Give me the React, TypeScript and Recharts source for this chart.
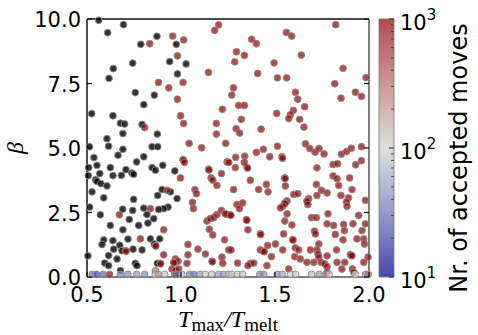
import React from 'react';
import {
  ScatterChart,
  Scatter,
  XAxis,
  YAxis,
  ComposedChart,
  ReferenceArea,
} from 'recharts';

// Axis ticks
const xTicks = [0.5, 1.0, 1.5, 2.0];
const yTicks = [0, 2.5, 5, 7.5, 10];
const cbarMajor = [10, 100, 1000];
const cbarTicks = [
  10, 20, 30, 40, 50, 60, 70, 80, 90, 100, 200, 300, 400, 500, 600, 700, 800, 900, 1000,
];

// Runs without an acceptance count (drawn black)
const blackPts: [number, number][] = [
  [0.562, 9.95], [0.694, 9.78], [0.61, 9.47], [0.872, 9.33], [0.786, 9.02], [0.743, 8.29],
  [0.64, 8.08], [0.617, 7.7], [0.757, 7.15], [0.858, 7.05], [0.802, 6.68], [0.525, 6.33],
  [0.638, 6.25], [0.678, 5.96], [0.7, 5.93], [0.793, 5.91], [0.691, 5.56], [0.874, 5.54],
  [0.606, 5.36], [0.513, 5.05], [0.615, 5.07], [0.691, 4.95], [0.846, 5.05], [0.876, 5.05],
  [0.975, 9.02], [0.94, 8.35], [1.027, 8.26], [0.981, 7.87],
  [0.665, 4.72], [0.537, 4.63], [0.764, 4.46], [0.802, 4.66], [0.509, 4.24], [0.553, 4.33],
  [0.624, 4.24], [0.707, 4.16], [0.683, 3.94], [0.739, 4.03], [0.748, 3.98], [0.638, 3.93],
  [0.568, 4.01], [0.507, 3.93], [0.846, 4.24], [0.864, 4.14], [0.546, 3.77], [0.553, 3.71],
  [0.574, 3.62], [0.606, 3.53], [0.527, 3.3], [0.589, 3.07], [0.748, 3.01], [0.876, 3.16],
  [0.514, 2.71], [0.69, 2.63], [0.743, 2.58], [0.802, 2.67], [0.571, 2.41], [0.624, 2.0],
  [0.725, 2.23], [0.819, 2.42], [0.855, 2.26], [0.691, 1.83], [0.775, 2.0], [0.824, 2.09],
  [0.837, 1.48], [0.858, 1.28], [0.589, 1.44], [0.638, 1.41], [0.718, 1.47], [0.58, 1.26],
  [0.642, 1.08], [0.674, 1.23], [0.686, 1.02], [0.745, 1.08], [0.793, 1.05], [0.505, 0.82],
  [0.615, 0.83], [0.66, 0.7], [0.594, 0.54], [0.615, 0.44], [0.757, 0.53], [0.766, 0.44],
  [0.874, 0.53], [0.678, 0.25],
  [0.903, 4.33], [0.967, 4.11], [0.899, 3.39], [0.944, 3.3], [0.979, 3.04], [0.931, 2.71],
  [0.908, 2.65], [0.881, 2.62], [0.887, 1.48],
];

// Runs that hit the top of the colour scale (>= 10^3 accepted moves)
const redPts: [number, number][] = [
  [0.834, 9.04], [0.88, 7.54], [0.807, 5.79],
  [0.956, 9.34], [1.014, 9.19], [1.2, 9.77], [1.179, 9.56], [0.981, 8.57], [1.146, 7.93],
  [1.011, 7.54], [0.935, 7.33], [0.981, 6.89], [1.22, 6.5], [0.998, 6.25], [1.014, 5.95],
  [1.188, 5.95], [1.188, 5.54], [1.043, 5.18], [1.11, 5.01], [1.238, 5.18],
  [1.561, 9.48], [1.589, 9.34], [1.376, 9.21], [1.401, 9.04], [1.295, 8.73], [1.337, 8.59],
  [1.286, 8.34], [1.495, 8.3], [1.408, 7.89], [1.513, 7.72], [1.562, 7.72], [1.64, 8.6],
  [1.279, 7.33], [1.27, 7.05], [1.621, 6.89], [1.307, 6.65], [1.337, 6.65], [1.509, 6.34],
  [1.598, 6.46], [1.582, 6.29], [1.573, 6.14], [1.631, 6.11], [1.321, 6.11], [1.293, 5.75],
  [1.312, 5.58], [1.426, 5.73], [1.438, 4.95], [1.513, 5.07],
  [1.823, 9.78], [1.862, 8.09], [1.984, 7.73], [1.818, 7.49], [1.851, 6.93], [1.928, 7.16],
  [1.96, 7.0], [1.609, 7.16], [1.658, 6.6], [1.654, 5.81], [1.401, 4.83], [1.472, 4.66],
  [1.537, 4.66], [1.54, 4.6], [1.662, 5.16], [1.685, 4.98], [1.713, 4.84], [1.734, 4.98],
  [1.761, 4.77], [1.809, 4.36], [1.833, 4.39], [1.853, 4.76], [1.88, 4.86], [1.906, 4.99],
  [1.96, 5.05], [1.96, 4.51], [1.929, 4.35], [1.723, 4.23], [1.291, 4.64], [1.339, 4.68],
  [1.351, 4.25], [1.354, 4.22],
  [1.011, 4.55], [1.013, 4.53], [1.018, 4.44], [0.997, 3.84], [1.147, 4.18], [1.149, 4.15],
  [1.16, 3.84], [1.169, 3.75], [1.215, 4.01], [1.245, 4.46], [1.191, 3.55], [1.074, 3.39],
  [1.082, 3.23], [0.926, 3.36], [1.061, 2.89], [1.066, 2.65], [0.908, 1.83], [1.138, 2.17],
  [1.156, 2.26], [1.174, 2.3], [1.191, 2.42], [1.215, 2.58], [1.245, 2.42], [1.151, 1.85],
  [1.169, 1.63], [1.232, 1.44], [1.037, 1.26], [1.09, 1.08], [1.13, 0.89], [1.165, 0.61],
  [1.167, 0.59], [1.218, 0.77], [1.222, 0.53], [0.908, 0.86], [0.97, 0.7], [0.984, 0.61],
  [0.961, 0.57], [0.963, 0.55], [1.037, 0.86], [1.032, 0.53], [0.89, 0.53], [0.892, 0.51],
  [0.952, 0.31], [0.97, 0.25], [0.988, 0.31],
  [0.837, 2.65], [0.672, 2.41], [0.784, 1.48], [0.864, 1.22], [0.866, 1.2], [0.706, 1.02],
  [0.708, 1.0],
  [1.254, 4.44], [1.289, 4.24], [1.337, 4.44], [1.369, 3.75], [1.28, 3.39], [1.413, 3.39],
  [1.454, 3.59], [1.463, 3.3], [1.552, 3.84], [1.554, 3.82], [1.555, 3.53], [1.6, 3.2],
  [1.621, 3.23], [1.564, 2.95], [1.552, 2.87], [1.554, 2.85], [1.543, 2.75], [1.529, 2.68],
  [1.564, 2.45], [1.552, 2.17], [1.59, 2.02], [1.298, 2.81], [1.328, 2.87], [1.311, 2.65],
  [1.236, 2.45], [1.263, 2.41], [1.265, 2.39], [1.348, 2.22], [1.35, 2.2], [1.356, 1.83],
  [1.422, 1.67], [1.424, 1.65], [1.546, 1.67], [1.594, 1.45], [1.596, 1.43], [1.502, 1.28],
  [1.461, 1.22], [1.422, 1.05], [1.44, 1.0], [1.442, 0.98], [1.254, 1.05], [1.266, 1.05],
  [1.541, 1.05], [1.608, 1.13], [1.605, 0.79], [1.481, 0.79], [1.301, 0.54], [1.369, 0.53],
  [1.387, 0.54], [1.356, 0.44], [1.457, 0.44], [1.573, 0.31],
  [1.809, 3.92], [1.83, 3.81], [1.839, 3.55], [1.897, 3.84], [1.91, 3.39], [1.72, 3.59],
  [1.747, 3.36], [1.777, 3.26], [1.723, 3.16], [1.679, 3.04], [1.67, 2.95], [1.672, 2.93],
  [1.675, 2.81], [1.851, 3.16], [1.891, 3.07], [1.88, 2.91], [1.883, 2.74], [1.981, 2.97],
  [1.782, 2.45], [1.694, 2.3], [1.72, 2.3], [1.945, 2.39], [1.777, 2.06], [1.812, 2.0],
  [1.821, 1.65], [1.865, 2.04], [1.869, 1.8], [1.862, 1.44], [1.915, 2.06], [1.981, 2.06],
  [1.963, 1.8], [1.71, 1.78], [1.715, 1.67], [1.936, 1.48], [1.972, 1.48], [1.976, 1.28],
  [1.995, 0.77], [1.972, 0.57], [1.901, 0.87], [1.903, 0.85], [1.91, 0.82], [1.871, 0.57],
  [1.827, 1.05], [1.733, 1.28], [1.723, 1.05], [1.688, 1.05], [1.729, 0.89], [1.733, 0.77],
  [1.626, 1.05], [1.777, 0.82], [1.745, 0.57], [1.764, 0.51], [1.777, 0.4], [1.67, 0.57],
  [1.706, 0.57], [1.635, 0.7], [1.83, 0.57], [1.856, 0.31], [1.912, 0.31], [1.919, 0.18],
  [1.777, 0.18],
];

// Runs coloured by their count: [T/Tmelt, beta, accepted moves]
const colouredPts: [number, number, number][] = [
  [0.864, 0.25, 300],
  [0.528, 0.1, 30], [0.552, 0.1, 22], [0.586, 0.1, 30], [0.62, 0.1, 900], [0.677, 0.1, 45],
  [0.717, 0.1, 45], [0.764, 0.1, 50], [0.807, 0.1, 45], [0.863, 0.1, 110], [0.879, 0.1, 200],
  [0.913, 0.1, 85], [0.966, 0.1, 55], [0.972, 0.1, 600], [0.982, 0.1, 25], [1.004, 0.1, 80],
  [1.046, 0.1, 35], [1.068, 0.1, 35], [1.102, 0.1, 55], [1.129, 0.1, 90], [1.163, 0.1, 85],
  [1.2, 0.1, 55], [1.227, 0.1, 50], [1.254, 0.1, 80], [1.27, 0.1, 110], [1.299, 0.1, 90],
  [1.328, 0.1, 120], [1.419, 0.1, 45], [1.44, 0.1, 45], [1.512, 0.1, 50], [1.538, 0.1, 60],
  [1.583, 0.1, 100], [1.61, 0.1, 95], [1.695, 0.1, 130], [1.735, 0.1, 50], [1.77, 0.1, 250],
  [1.788, 0.1, 110], [1.927, 0.1, 100], [1.982, 0.1, 40], [1.996, 0.1, 300],
];

const blackData = blackPts.map(([x, y]) => ({ x, y }));
const redData = redPts.map(([x, y]) => ({ x, y }));
const colouredData = colouredPts.map(([x, y, v]) => ({ x, y, v }));
const cbarData = [{ v: 10 }, { v: 1000 }];

// colour scale, as it looks on white: t=0 -> 10^1, t=1 -> 10^3
const STOPS: [number, number[]][] = [
  [0, [70, 72, 172]],
  [0.25, [150, 155, 205]],
  [0.5, [220, 224, 220]],
  [0.75, [205, 150, 150]],
  [1, [178, 76, 76]],
];
const ALPHA = 0.7;
const R = 3.4;
const EDGE = '#8a8a8a';
const SANS = 'DejaVu Sans';
const SERIF = 'Liberation Serif';

function appear(t: number) {
  const tt = Math.max(0, Math.min(1, t));
  for (let i = 1; i < STOPS.length; i++) {
    const [t0, c0] = STOPS[i - 1];
    const [t1, c1] = STOPS[i];
    if (tt <= t1) {
      const f = (tt - t0) / (t1 - t0);
      return c0.map((c, k) => c + f * (c1[k] - c));
    }
  }
  return STOPS[STOPS.length - 1][1];
}

const rgb = (c: number[]) => `rgb(${c.map((v) => Math.round(v)).join(',')})`;

// fill colour that gives the scale colour once drawn at ALPHA over white
function pointFill(moves: number) {
  const c = appear((Math.log10(moves) - 1) / 2);
  return rgb(c.map((v) => Math.max(0, Math.min(255, (v - 255 * (1 - ALPHA)) / ALPHA))));
}

const blackShape = (p: any) => (
  <circle cx={p.cx} cy={p.cy} r={R} fill="#000" fillOpacity={0.8} stroke={EDGE} strokeWidth={0.9} />
);
const redShape = (p: any) => (
  <circle cx={p.cx} cy={p.cy} r={R} fill={pointFill(1000)} fillOpacity={ALPHA} stroke={EDGE} strokeWidth={0.9} />
);
const colouredShape = (p: any) => (
  <circle cx={p.cx} cy={p.cy} r={R} fill={pointFill(p.payload.v)} fillOpacity={ALPHA} stroke={EDGE} strokeWidth={0.9} />
);

const AX_DARK = '#111';
const AX_GREY = '#555';

function BottomTick({ x, y, payload }: any) {
  return (
    <g>
      <line x1={x} x2={x} y1={y} y2={y - 5} stroke={AX_DARK} strokeWidth={1.2} />
      <text x={x} y={y + 25} textAnchor="middle" fontSize={21} fontFamily={SANS} fill="#000">
        {payload.value.toFixed(1)}
      </text>
    </g>
  );
}

function TopTick({ x, y }: any) {
  return <line x1={x} x2={x} y1={y} y2={y + 5} stroke={AX_DARK} strokeWidth={1.2} />;
}

function LeftTick({ x, y, payload }: any) {
  return (
    <g>
      <line x1={x} x2={x + 5} y1={y} y2={y} stroke={AX_DARK} strokeWidth={1.2} />
      <text x={x - 6} y={y + 8} textAnchor="end" fontSize={21} fontFamily={SANS} fill="#000">
        {payload.value.toFixed(1)}
      </text>
    </g>
  );
}

function RightTick({ x, y }: any) {
  return <line x1={x - 5} x2={x} y1={y} y2={y} stroke={AX_DARK} strokeWidth={1.2} />;
}

function CbarTick({ x, y, payload }: any) {
  const v = payload.value;
  const major = cbarMajor.includes(v);
  return (
    <g>
      <line x1={x - (major ? 5 : 3)} x2={x} y1={y} y2={y} stroke="#333" strokeWidth={major ? 1.1 : 0.8} />
      {major && (
        <text x={x + 6} y={y + 11} fontSize={21} fontFamily={SANS} fill="#000">
          10
          <tspan dy={-10} fontSize={15}>
            {Math.round(Math.log10(v))}
          </tspan>
        </text>
      )}
    </g>
  );
}

function XLabel({ viewBox }: any) {
  const cx = viewBox.x + viewBox.width / 2;
  const y = viewBox.y + 50;
  return (
    <text x={cx} y={y} textAnchor="middle" fontFamily={SERIF} fontSize={24} fill="#000">
      <tspan fontStyle="italic">T</tspan>
      <tspan fontSize={19} dy={4}>max</tspan>
      <tspan dy={-4} fontStyle="italic">/</tspan>
      <tspan fontStyle="italic">T</tspan>
      <tspan fontSize={19} dy={4}>melt</tspan>
    </text>
  );
}

function YLabel({ viewBox }: any) {
  const x = viewBox.x + 15;
  const y = viewBox.y + viewBox.height / 2;
  return (
    <text
      x={x}
      y={y}
      transform={`rotate(-90, ${x}, ${y})`}
      textAnchor="middle"
      dominantBaseline="central"
      fontFamily={SERIF}
      fontStyle="italic"
      fontSize={24}
      fill="#000"
    >
      β
    </text>
  );
}

function CbarLabel({ viewBox }: any) {
  const x = viewBox.x + 73;
  const y = viewBox.y + viewBox.height / 2 + 10;
  return (
    <text
      x={x}
      y={y}
      transform={`rotate(-90, ${x}, ${y})`}
      textAnchor="middle"
      fontFamily={SANS}
      fontSize={24}
      fill="#000"
    >
      Nr. of accepted moves
    </text>
  );
}

// gradient stops must run top (10^3) to bottom (10^1) with rising offsets
const gradStops = [...STOPS].reverse();

export default function App() {
  return (
    <div style={{ position: 'absolute', left: 0, top: 0, width: 478, height: 335, background: '#fff' }}>
      <div style={{ position: 'absolute', left: 0, top: 0 }}>
        <ScatterChart width={478} height={335} margin={{ top: 18, right: 108, bottom: 0, left: 0 }}>
          <XAxis
            dataKey="x"
            type="number"
            domain={[0.5, 2]}
            ticks={xTicks}
            interval={0}
            height={58}
            tickSize={0}
            tickMargin={0}
            tickLine={false}
            tick={BottomTick}
            axisLine={{ stroke: AX_GREY, strokeWidth: 1.5 }}
            label={<XLabel />}
          />
          <XAxis
            xAxisId="top"
            orientation="top"
            type="number"
            domain={[0.5, 2]}
            allowDataOverflow
            ticks={xTicks}
            interval={0}
            height={1}
            tickSize={0}
            tickMargin={0}
            tickLine={false}
            tick={TopTick}
            axisLine={{ stroke: AX_DARK, strokeWidth: 1.5 }}
          />
          <YAxis
            dataKey="y"
            type="number"
            domain={[0, 10]}
            ticks={yTicks}
            interval={0}
            width={87}
            tickSize={0}
            tickMargin={0}
            tickLine={false}
            tick={LeftTick}
            axisLine={{ stroke: AX_DARK, strokeWidth: 1.5 }}
            label={<YLabel />}
          />
          <YAxis
            yAxisId="right"
            orientation="right"
            type="number"
            domain={[0, 10]}
            allowDataOverflow
            ticks={yTicks}
            interval={0}
            width={1}
            tickSize={0}
            tickMargin={0}
            tickLine={false}
            tick={RightTick}
            axisLine={{ stroke: AX_GREY, strokeWidth: 1.5 }}
          />
          <Scatter data={blackData} shape={blackShape} isAnimationActive={false} />
          <Scatter data={redData} shape={redShape} isAnimationActive={false} />
          <Scatter data={colouredData} shape={colouredShape} isAnimationActive={false} />
        </ScatterChart>
      </div>
      <div style={{ position: 'absolute', left: 0, top: 0 }}>
        <ComposedChart
          width={478}
          height={335}
          data={cbarData}
          margin={{ top: 19, right: 24, bottom: 58, left: 379 }}
        >
          <defs>
            <linearGradient id="cbarGrad" x1="0" y1="0" x2="0" y2="1">
              {gradStops.map(([t, c]) => (
                <stop key={t} offset={`${(1 - t) * 100}%`} stopColor={rgb(c)} />
              ))}
            </linearGradient>
          </defs>
          <XAxis type="number" domain={[0, 1]} hide />
          <YAxis
            dataKey="v"
            orientation="right"
            type="number"
            scale="log"
            domain={[10, 1000]}
            allowDataOverflow
            ticks={cbarTicks}
            interval={0}
            width={60}
            tickSize={0}
            tickMargin={0}
            tickLine={false}
            tick={CbarTick}
            axisLine={false}
            label={<CbarLabel />}
          />
          <ReferenceArea
            x1={0}
            x2={1}
            y1={10}
            y2={1000}
            fill="url(#cbarGrad)"
            fillOpacity={1}
            stroke="#777"
            strokeWidth={0.8}
          />
        </ComposedChart>
      </div>
    </div>
  );
}
